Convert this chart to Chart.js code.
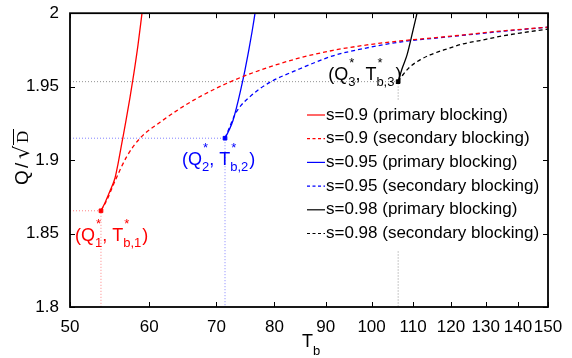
<!DOCTYPE html>
<html>
<head>
<meta charset="utf-8">
<script src="https://cdn.jsdelivr.net/npm/chart.js@4.4.1/dist/chart.umd.min.js"></script>
<style>
  html, body { margin: 0; padding: 0; background: #fff; }
  #wrap { width: 572px; height: 358px; }
</style>
</head>
<body>
<div id="wrap"><canvas id="myChart" width="572" height="358"></canvas></div>
<script>
// tick labels
var xTicks = [50, 60, 70, 80, 90, 100, 110, 120, 130, 140, 150];
var yTicks = [1.8, 1.85, 1.9, 1.95, 2];

// critical points (Q*, Tb*) for s = 0.9, 0.95, 0.98
var critT = [53.69, 71.4, 106.3];
var critQ = [1.8655, 1.9149, 1.9534];

// s = 0.9
var primT09 = [53.69, 54.19, 54.81, 55.45, 55.83, 56.35, 56.87, 57.39, 57.92, 58.46, 59.0];
var primQ09 = [1.8655, 1.871, 1.879, 1.8878, 1.8973, 1.9122, 1.927, 1.9426, 1.9595, 1.9784, 2.0];
var secT09 = [53.69, 54.44, 55.45, 57.0, 58.73, 61.49, 64.38, 67.41, 72.72, 78.63, 84.83, 91.52, 98.95, 106.76, 118.93, 134.33, 150];
var secQ09 = [1.8655, 1.873, 1.8858, 1.9027, 1.9149, 1.9257, 1.9351, 1.9432, 1.9541, 1.9628, 1.9696, 1.9747, 1.9784, 1.9811, 1.9841, 1.9878, 1.9905];

// s = 0.95
var primT095 = [71.4, 72.06, 72.72, 73.4, 74.07, 74.76, 75.45, 75.97, 76.5];
var primQ095 = [1.9149, 1.9203, 1.927, 1.9372, 1.9487, 1.9615, 1.9757, 1.9872, 2.0];
var secT095 = [71.4, 72.22, 73.06, 74.07, 75.62, 77.38, 79.73, 84.83, 91.52, 98.95, 106.76, 118.93, 134.33, 150];
var secQ095 = [1.9149, 1.923, 1.9311, 1.9372, 1.9432, 1.9487, 1.9541, 1.9622, 1.971, 1.9764, 1.9804, 1.9838, 1.9875, 1.9905];

// s = 0.98
var primT098 = [106.3, 107.25, 108.49, 110.0, 111.01];
var primQ098 = [1.9534, 1.9622, 1.9716, 1.9885, 2.0];
var secT098 = [106.3, 107.49, 109.24, 111.78, 114.38, 118.93, 123.38, 128.3, 133.41, 140.66, 150];
var secQ098 = [1.9534, 1.9581, 1.9635, 1.9682, 1.9716, 1.9757, 1.9791, 1.9814, 1.9838, 1.9865, 1.9892];

var legendLabels = [
    "s=0.9 (primary blocking)",
    "s=0.9 (secondary blocking)",
    "s=0.95 (primary blocking)",
    "s=0.95 (secondary blocking)",
    "s=0.98 (primary blocking)",
    "s=0.98 (secondary blocking)"
];

var colors = ["#ff0000", "#0000ff", "#000000"];
var guideColors = ["rgba(255,90,90,0.75)", "rgba(90,90,255,0.75)", "rgba(120,120,120,0.8)"];

var FONT = "'Liberation Sans', Arial, sans-serif";
Chart.defaults.font.family = FONT;

function pts(xs, ys){
    return xs.map(function(x, i){ return {x: x, y: ys[i]}; });
}

function curve(label, xs, ys, color, dashed){
    return {
        label: label,
        data: pts(xs, ys),
        borderColor: color,
        backgroundColor: color,
        borderWidth: 1.3,
        borderDash: dashed ? [4, 3] : [],
        pointRadius: 0,
        showLine: true,
        cubicInterpolationMode: "monotone",
        order: 1
    };
}

var datasets = [];
var series = [
    [primT09, primQ09, secT09, secQ09],
    [primT095, primQ095, secT095, secQ095],
    [primT098, primQ098, secT098, secQ098]
];
for (var i = 0; i < 3; i++) {
    datasets.push(curve(legendLabels[2*i], series[i][0], series[i][1], colors[i], false));
    datasets.push(curve(legendLabels[2*i+1], series[i][2], series[i][3], colors[i], true));
}
// dotted guide lines from each critical point to the axes
for (var i = 0; i < 3; i++) {
    datasets.push({
        label: "guide",
        data: [{x: xTicks[0], y: critQ[i]}, {x: critT[i], y: critQ[i]}, {x: critT[i], y: yTicks[0]}],
        borderColor: guideColors[i],
        borderWidth: 1,
        borderDash: [1, 2],
        pointRadius: 0,
        showLine: true,
        order: 10
    });
}
// markers on the critical points
for (var i = 0; i < 3; i++) {
    datasets.push({
        label: "marker",
        data: [{x: critT[i], y: critQ[i]}],
        backgroundColor: colors[i],
        borderColor: colors[i],
        pointStyle: "rect",
        pointRadius: 2.6,
        showLine: false,
        order: 0
    });
}

// text next to the critical points: [dx, dy] from the marker, and subscripts
var critText = [
    {dx: -26, dy: 30, q: "1", t: "b,1"},
    {dx: -43, dy: 27, q: "2", t: "b,2"},
    {dx: -70, dy: -2, q: "3", t: "b,3"}
];

function drawSubSup(ctx, x, y, sub, sup){
    ctx.font = "13px " + FONT;
    ctx.fillText(sup, x + 1, y - 13);
    ctx.fillText(sub, x, y + 6);
    return Math.max(ctx.measureText(sub).width, ctx.measureText(sup).width);
}

var decor = {
    id: "decor",
    afterDatasetsDraw: function(chart){
        var ctx = chart.ctx;
        var xs = chart.scales.x, ys = chart.scales.y;
        ctx.save();

        // legend box
        ctx.fillStyle = "#fff";
        ctx.fillRect(303, 101, 243, 150);
        ctx.textBaseline = "middle";
        ctx.font = "17px " + FONT;
        for (var i = 0; i < 6; i++) {
            var ly = 115 + i * 23.7;
            var ds = chart.data.datasets[i];
            ctx.strokeStyle = ds.borderColor;
            ctx.lineWidth = 1.2;
            ctx.setLineDash(i % 2 ? [3, 2.5] : []);
            ctx.beginPath();
            ctx.moveTo(307, ly);
            ctx.lineTo(325, ly);
            ctx.stroke();
            ctx.setLineDash([]);
            ctx.fillStyle = "#000";
            ctx.fillText(legendLabels[i], 326, ly);
        }

        // (Q*, Tb*) labels
        ctx.textBaseline = "alphabetic";
        for (var i = 0; i < 3; i++) {
            var px = xs.getPixelForValue(critT[i]) + critText[i].dx;
            var py = ys.getPixelForValue(critQ[i]) + critText[i].dy;
            ctx.fillStyle = colors[i];
            ctx.font = "18px " + FONT;
            ctx.fillText("(Q", px, py);
            px += ctx.measureText("(Q").width;
            px += drawSubSup(ctx, px, py, critText[i].q, "*");
            ctx.font = "18px " + FONT;
            ctx.fillText(", T", px, py);
            px += ctx.measureText(", T").width;
            px += drawSubSup(ctx, px, py, critText[i].t, "*");
            ctx.font = "18px " + FONT;
            ctx.fillText(")", px + 1, py);
        }

        // axis titles
        ctx.fillStyle = "#000";
        ctx.font = "18px " + FONT;
        ctx.fillText("T", 302, 347);
        ctx.font = "13px " + FONT;
        ctx.fillText("b", 313, 355);

        ctx.translate(28, 186);
        ctx.rotate(-Math.PI / 2);
        ctx.font = "19px " + FONT;
        ctx.fillText("Q", 1, 0);
        ctx.fillText("/", 18, 0);
        ctx.font = "21px 'DejaVu Sans'";
        ctx.fillText("\u221A", 27, 1);
        ctx.font = "17px 'Liberation Serif', serif";
        ctx.fillText("D", 43, 0);
        ctx.strokeStyle = "#000";
        ctx.lineWidth = 1;
        ctx.beginPath();
        ctx.moveTo(41, -14.5);
        ctx.lineTo(57, -14.5);
        ctx.stroke();
        ctx.restore();
    },
    afterDraw: function(chart){
        var ctx = chart.ctx;
        var a = chart.chartArea;
        var xs = chart.scales.x, ys = chart.scales.y;
        ctx.save();
        ctx.strokeStyle = "#000";
        ctx.lineWidth = 1;
        ctx.beginPath();
        xTicks.forEach(function(v){
            var p = Math.round(xs.getPixelForValue(v)) + 0.5;
            ctx.moveTo(p, a.bottom); ctx.lineTo(p, a.bottom - 5);
            ctx.moveTo(p, a.top); ctx.lineTo(p, a.top + 5);
        });
        yTicks.forEach(function(v){
            var p = Math.round(ys.getPixelForValue(v)) + 0.5;
            ctx.moveTo(a.left, p); ctx.lineTo(a.left + 5, p);
            ctx.moveTo(a.right, p); ctx.lineTo(a.right - 5, p);
        });
        ctx.stroke();
        ctx.lineWidth = 1.8;
        ctx.strokeRect(a.left, a.top, a.right - a.left, a.bottom - a.top);
        ctx.restore();
    }
};

var ctx = document.getElementById("myChart").getContext("2d");
var myChart = new Chart(ctx, {
    type: "scatter",
    data: { datasets: datasets },
    options: {
        responsive: false,
        animation: false,
        layout: { padding: { top: 11, right: 24, left: 0, bottom: 0 } },
        plugins: { legend: { display: false }, tooltip: { enabled: false } },
        scales: {
            x: {
                type: "logarithmic",
                min: 50,
                max: 150,
                grid: { display: false },
                border: { display: false },
                afterBuildTicks: function(scale){
                    scale.ticks = xTicks.map(function(v){ return {value: v}; });
                },
                afterFit: function(scale){ scale.height = 51; },
                ticks: {
                    autoSkip: false,
                    maxRotation: 0,
                    padding: 2,
                    color: "#000",
                    font: { size: 17 },
                    callback: function(v){ return String(v); }
                }
            },
            y: {
                min: 1.8,
                max: 2,
                grid: { display: false },
                border: { display: false },
                afterBuildTicks: function(scale){
                    scale.ticks = yTicks.map(function(v){ return {value: v}; });
                },
                afterFit: function(scale){ scale.width = 70; },
                ticks: {
                    padding: 3,
                    color: "#000",
                    font: { size: 17 },
                    callback: function(v){ return String(Math.round(v * 100) / 100); }
                }
            }
        }
    },
    plugins: [decor]
});
</script>
</body>
</html>
